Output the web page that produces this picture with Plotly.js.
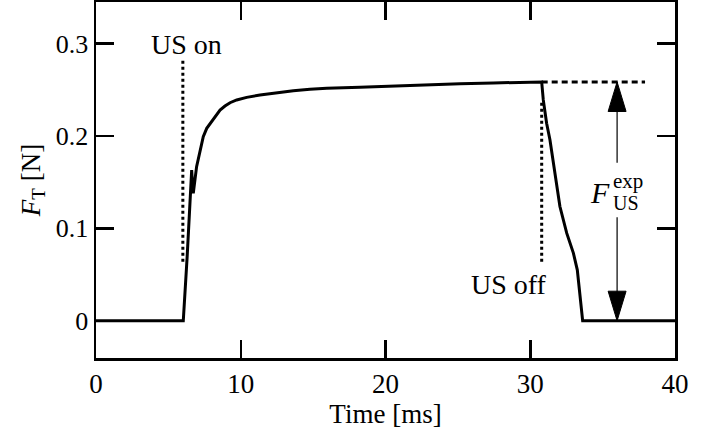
<!DOCTYPE html>
<html>
<head>
<meta charset="utf-8">
<script src="https://cdn.plot.ly/plotly-3.0.1.min.js"></script>
<style>html,body{margin:0;padding:0;background:#fff;}#chart{width:720px;height:431px;}</style>
</head>
<body>
<div id="chart"></div>
<script>
// Measured force trace (time in ms, force in N)
const timeMs = [0, 2, 4, 5.9, 6.03, 6.3, 6.54, 6.61, 6.68, 6.72, 6.95, 7.18, 7.41, 7.65, 7.88, 8.1, 8.34, 8.57, 8.91, 9.26, 9.72, 10.41, 11.33, 12.48, 13.63, 14.78, 15.94, 18.24, 20.54, 22.85, 25.15, 27.45, 30.79, 30.9, 31.13, 31.36, 31.7, 32.05, 32.52, 32.98, 33.25, 33.44, 33.62, 36, 40];
const forceN = [0, 0, 0, 0, 0, 0.07, 0.138, 0.163, 0.145, 0.138, 0.1668, 0.1849, 0.1993, 0.2083, 0.213, 0.2173, 0.2227, 0.228, 0.2324, 0.236, 0.239, 0.2418, 0.2443, 0.2468, 0.249, 0.2505, 0.2516, 0.2526, 0.254, 0.2555, 0.2565, 0.2574, 0.2585, 0.239, 0.2137, 0.196, 0.16, 0.1236, 0.0948, 0.0732, 0.0551, 0.03, 0, 0, 0];

// Event markers
const usOnTime = 6.0;
const usOffTime = 30.79;
const usOnLine = [0.064, 0.284];
const usOffLine = [0.064, 0.239];
const fUsExp = 0.2585;
const refLineEnd = 37.93;
const arrowX = 36.0;
const arrowGap = [0.112, 0.171];

const xTicks = [0, 10, 20, 30, 40];
const yTicks = [0, 0.1, 0.2, 0.3];
const yTickText = ['0', '0.1', '0.2', '0.3'];

const FONT = 'Liberation Serif, Times New Roman, serif';

const traces = [
  {x: timeMs, y: forceN, mode: 'lines', line: {color: '#000', width: 3}, hoverinfo: 'skip'},
  {x: [usOnTime, usOnTime], y: usOnLine, mode: 'lines', line: {color: '#000', width: 3, dash: 'dot'}},
  {x: [usOffTime, usOffTime], y: usOffLine, mode: 'lines', line: {color: '#000', width: 3, dash: 'dot'}},
  {x: [usOffTime, refLineEnd], y: [fUsExp, fUsExp], mode: 'lines', line: {color: '#000', width: 3, dash: '6px,4px'}},
  {x: [arrowX, arrowX], y: [fUsExp, arrowGap[1]], mode: 'lines', line: {color: '#000', width: 1.2}},
  {x: [arrowX, arrowX], y: [arrowGap[0], 0], mode: 'lines', line: {color: '#000', width: 1.2}}
];

// arrowheads (size in axis units)
const headH = 0.032, headHalfW = 0.62;
function tri(x, tipY, dir) {
  const baseY = tipY - dir * headH;
  return {type: 'path', xref: 'x', yref: 'y',
    path: `M ${x} ${tipY} L ${x - headHalfW} ${baseY} L ${x + headHalfW} ${baseY} Z`,
    fillcolor: '#000', line: {color: '#000', width: 1}};
}

const layout = {
  width: 720, height: 431,
  margin: {l: 96, r: 45, t: 2, b: 73},
  paper_bgcolor: '#fff', plot_bgcolor: '#fff',
  showlegend: false,
  font: {family: FONT, color: '#000', size: 27},
  xaxis: {
    range: [0, 40], tickvals: xTicks, ticks: 'inside', ticklen: 18, tickwidth: 2.5, tickcolor: '#000',
    showline: true, linewidth: 2.5, linecolor: '#000', mirror: 'ticks',
    showgrid: false, zeroline: false, tickfont: {family: FONT, size: 27},
    title: {text: 'Time [ms]', font: {family: FONT, size: 27}, standoff: 0}
  },
  yaxis: {
    range: [-0.0403, 0.345], tickvals: yTicks, ticktext: yTickText, ticks: 'inside', ticklen: 18, tickwidth: 2.5, tickcolor: '#000',
    showline: true, linewidth: 2.5, linecolor: '#000', mirror: 'ticks',
    showgrid: false, zeroline: false, tickfont: {family: FONT, size: 26},
    title: {text: '<i>F</i><sub>T</sub> [N]', font: {family: FONT, size: 27}, standoff: 8}
  },
  shapes: [tri(arrowX, fUsExp, 1), tri(arrowX, 0, -1)],
  annotations: [
    {x: 6.22, y: 0.2995, xref: 'x', yref: 'y', text: 'US on', showarrow: false, font: {family: FONT, size: 28}},
    {x: 28.5, y: 0.039, xref: 'x', yref: 'y', text: 'US off', showarrow: false, font: {family: FONT, size: 28}},
    {x: 34.82, y: 0.139, xref: 'x', yref: 'y', text: '<i>F</i>', showarrow: false, font: {family: FONT, size: 30}},
    {x: 35.55, y: 0.151, xref: 'x', yref: 'y', text: 'exp', showarrow: false, xanchor: 'left', font: {family: FONT, size: 21}},
    {x: 35.55, y: 0.1276, xref: 'x', yref: 'y', text: 'US', showarrow: false, xanchor: 'left', font: {family: FONT, size: 20}}
  ]
};

Plotly.newPlot('chart', traces, layout, {displayModeBar: false, staticPlot: true});
</script>
</body>
</html>
